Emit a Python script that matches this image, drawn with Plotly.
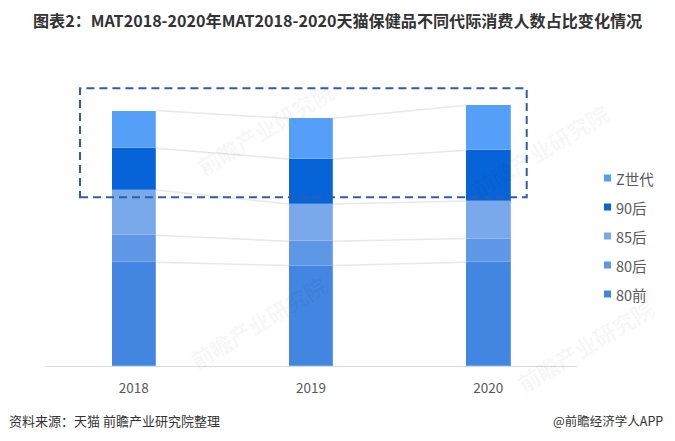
import plotly.graph_objects as go

# ---- data ----
years = ["2018", "2019", "2020"]
series_names = ["80前", "80后", "85后", "90后", "Z世代"]
v_80q = [10.37, 10.04, 10.37]
v_80h = [2.70, 2.43, 2.37]
v_85h = [4.53, 3.73, 3.76]
v_90h = [4.17, 4.50, 5.07]
v_z = [3.77, 4.07, 4.50]
series_values = [v_80q, v_80h, v_85h, v_90h, v_z]
colors = ["#4286E1", "#5D97E6", "#79A9EB", "#0764D8", "#569FF8"]

title_text = "图表2：MAT2018-2020年MAT2018-2020天猫保健品不同代际消费人数占比变化情况"
source_text = "资料来源：天猫 前瞻产业研究院整理"
brand_text = "@前瞻经济学人APP"
watermark_text = "前瞻产业研究院"

# ---- layout geometry (page body has an 8px margin) ----
OFF = 8
FW, FH = 675 - OFF, 441 - 2 * OFF
L, T = 45 - OFF, 60 - OFF
R = FW - (577 - OFF)
B = FH - (366 - OFF)
PW, PH = FW - L - R, FH - T - B
BAR_W = 0.25
FONT = "Noto Sans CJK SC"


def px_x(px):
    # screen pixel -> paper x
    return (px - OFF - L) / PW


def px_y(py):
    # screen pixel -> paper y
    return (FH - B - (py - OFF)) / PH


xs = list(range(len(years)))
fig = go.Figure()

# connecting lines between the segment boundaries
cum = [0.0] * len(years)
levels = []
for vals in series_values:
    cum = [c + v for c, v in zip(cum, vals)]
    levels.append(list(cum))
for lvl in levels:
    lx, ly = [], []
    for k in range(len(years) - 1):
        lx += [xs[k] + BAR_W / 2, xs[k + 1] - BAR_W / 2, None]
        ly += [lvl[k], lvl[k + 1], None]
    fig.add_trace(go.Scatter(x=lx, y=ly, mode="lines",
                             line=dict(color="#E8E8E8", width=1.5),
                             showlegend=False, hoverinfo="skip"))

for name, vals, col in zip(series_names, series_values, colors):
    fig.add_trace(go.Bar(x=xs, y=vals, name=name, width=BAR_W,
                         marker=dict(color=col,
                                     line=dict(color="rgba(255,255,255,0.2)", width=1)),
                         showlegend=False))

ymax = PH / 10.0

shapes = [
    dict(type="rect", xref="paper", yref="paper",
         x0=px_x(80), x1=px_x(526.7), y0=px_y(197.3), y1=px_y(88.3),
         line=dict(color="#2F5DA8", width=2, dash="8px,5px"),
         fillcolor="rgba(0,0,0,0)"),
]
annotations = []

# faint watermarks
for cx, cy in [(265, 128), (258, 322), (540, 150), (585, 345)]:
    annotations.append(dict(text=watermark_text, xref="paper", yref="paper",
                            x=px_x(cx), y=px_y(cy), xanchor="center", yanchor="middle",
                            textangle=-31, showarrow=False,
                            font=dict(family=FONT, size=22, color="rgba(0,0,0,0.05)",
                                      weight="bold")))

# manual legend (top item = Z世代)
leg_y0 = 178
for i, (name, col) in enumerate(zip(series_names[::-1], colors[::-1])):
    cy = leg_y0 + 29 * i
    shapes.append(dict(type="rect", xref="paper", yref="paper",
                       x0=px_x(604), x1=px_x(611), y0=px_y(cy + 3.5), y1=px_y(cy - 3.5),
                       line=dict(width=0), fillcolor=col))
    annotations.append(dict(text=name, xref="paper", yref="paper",
                            x=px_x(614), y=px_y(cy), xanchor="left", yanchor="middle",
                            showarrow=False,
                            font=dict(family=FONT, size=14.5, color="#595959")))

annotations.append(dict(text=source_text, xref="paper", yref="paper",
                        x=px_x(7), y=px_y(420), xanchor="left", yanchor="middle",
                        showarrow=False, font=dict(family=FONT, size=13, color="#333333")))
annotations.append(dict(text=brand_text, xref="paper", yref="paper",
                        x=px_x(665), y=px_y(420), xanchor="right", yanchor="middle",
                        showarrow=False, font=dict(family=FONT, size=12.5, color="#333333")))

fig.update_layout(
    width=FW, height=FH,
    margin=dict(l=L, r=R, t=T, b=B),
    paper_bgcolor="white", plot_bgcolor="white",
    barmode="stack", bargap=0,
    title=dict(text=title_text, xref="container", yref="container",
               x=(33 - OFF) / FW, xanchor="left", y=1 - (21 - OFF) / FH, yanchor="middle",
               font=dict(family=FONT, size=16.1, color="#333333", weight="bold")),
    xaxis=dict(range=[-0.5, len(years) - 0.5], tickmode="array", tickvals=xs,
               ticktext=years, showgrid=False, zeroline=False,
               showline=True, linecolor="#D9D9D9", linewidth=1,
               ticks="outside", ticklen=10, tickcolor="rgba(0,0,0,0)",
               tickfont=dict(family=FONT, size=13.5, color="#595959")),
    yaxis=dict(range=[0, ymax], visible=False),
    shapes=shapes, annotations=annotations,
)

fig.write_html("out.html")
